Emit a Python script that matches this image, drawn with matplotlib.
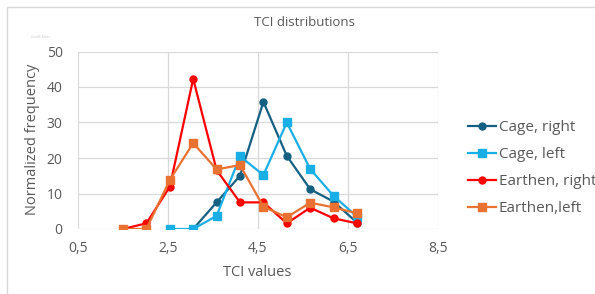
import matplotlib.pyplot as plt
from matplotlib.patches import Rectangle

plt.rcParams['font.family'] = ['Open Sans', 'DejaVu Sans']

# TCI bin centres and normalized frequencies
x_all = [1.5, 2.02, 2.54, 3.06, 3.58, 4.1, 4.62, 5.14, 5.66, 6.18, 6.7]

x_cage_right = [3.06, 3.58, 4.1, 4.62, 5.14, 5.66, 6.18, 6.7]
cage_right = [0, 7.5, 15, 35.8, 20.6, 11.2, 7.7, 1.8]

x_cage_left = [2.54, 3.06, 3.58, 4.1, 4.62, 5.14, 5.66, 6.18, 6.7]
cage_left = [0, 0, 3.7, 20.5, 15.2, 30, 16.9, 9.3, 3.5]

earthen_right = [0, 1.6, 11.9, 42.3, 16.6, 7.5, 7.5, 1.6, 6.0, 3.0, 1.6]
earthen_left = [0, 0, 13.8, 24.2, 16.8, 18, 6.3, 3.3, 7.4, 6.1, 4.4]

x_ticks = [0.5, 2.5, 4.5, 6.5, 8.5]
x_tick_labels = ['0,5', '2,5', '4,5', '6,5', '8,5']
y_ticks = [0, 10, 20, 30, 40, 50]

W, H = 595, 294
fig = plt.figure(figsize=(W / 100, H / 100), dpi=100)

# chart area border (Excel style)
fig.patches.append(Rectangle((7 / W, -0.1), 1.2, 1 - 7 / H + 0.1, transform=fig.transFigure,
                             fill=False, edgecolor='#D9D9D9', linewidth=1))

ax = fig.add_axes([78 / W, (H - 229) / H, (438 - 78) / W, (229 - 51.5) / H])

ax.plot(x_cage_right, cage_right, color='#156082', marker='o', markersize=5, linewidth=1.6, label='Cage, right')
ax.plot(x_cage_left, cage_left, color='#1AAEE6', marker='s', markersize=5.5, linewidth=1.6, label='Cage, left')
ax.plot(x_all, earthen_right, color='#FF0000', marker='o', markersize=5, linewidth=1.6, label='Earthen, right')
ax.plot(x_all, earthen_left, color='#E97132', marker='s', markersize=5.5, linewidth=1.6, label='Earthen,left')

ax.set_xlim(0.5, 8.5)
ax.set_ylim(0, 50)
ax.set_xticks(x_ticks)
ax.set_xticklabels(x_tick_labels)
ax.set_yticks(y_ticks)
ax.grid(True, color='#D9D9D9', linewidth=0.9)
ax.set_axisbelow(True)
for s in ax.spines.values():
    s.set_visible(False)
ax.tick_params(length=0, labelsize=10, labelcolor='#595959')
ax.tick_params(axis='x', pad=9)
ax.tick_params(axis='y', pad=11)

fig.text(305 / W, 1 - 23 / H, 'TCI distributions', ha='center', va='center', fontsize=9.5, color='#595959')
fig.text(257 / W, 1 - 272 / H, 'TCI values', ha='center', va='center', fontsize=10.5, color='#595959')
fig.text(33 / W, 1 - 139 / H, 'Normalized frequency', ha='center', va='center', rotation=90,
         fontsize=10.5, color='#595959')
fig.text(40 / W, 1 - 37 / H, 'Grafik Alanı', ha='center', va='center', fontsize=2.5, color='#C8C8C8')

ax.legend(loc='upper left', bbox_to_anchor=(462 / W, 1 - 114 / H), bbox_transform=fig.transFigure,
          frameon=False, fontsize=11, labelcolor='#595959', handlelength=1.8, handletextpad=0.2,
          labelspacing=0.78, borderaxespad=0)

fig.savefig('out.png', dpi=100)
